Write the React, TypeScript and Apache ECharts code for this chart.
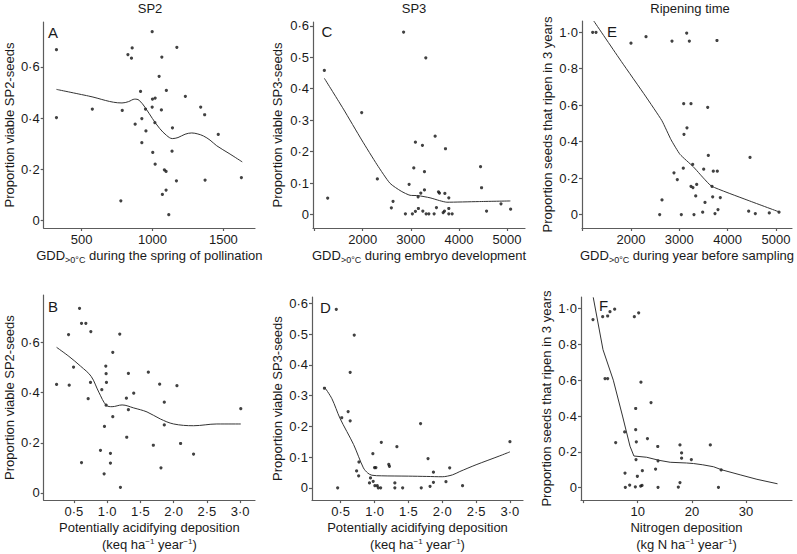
import React, { useEffect, useRef } from 'react';
import * as echarts from 'echarts';

const FONT = '"Liberation Sans", Arial, Helvetica, sans-serif';
const AXIS_COLOR = '#5c5c5c';
const TEXT_COLOR = '#1a1a1a';

// ---------- Panel A: SP2 vs GDD (spring of pollination) ----------
const pointsA: number[][] = [
  [323, 0.667], [323, 0.402], [576, 0.435], [787, 0.430], [777, 0.077], [827, 0.648], [857, 0.674], [852, 0.634],
  [878, 0.376], [916, 0.504], [925, 0.398], [925, 0.304], [951, 0.435], [954, 0.350], [998, 0.737], [1000, 0.474],
  [998, 0.443], [1002, 0.266], [1019, 0.478], [1017, 0.382], [1019, 0.220], [1047, 0.563], [1066, 0.638], [1063, 0.432],
  [1070, 0.102], [1084, 0.198], [1096, 0.192], [1096, 0.119], [1098, 0.508], [1115, 0.023], [1141, 0.362], [1138, 0.271],
  [1172, 0.676], [1169, 0.155], [1232, 0.485], [1340, 0.443], [1368, 0.413], [1371, 0.158], [1464, 0.336], [1627, 0.168],
];
const curveA: number[][] = [
  [323, 0.512], [550, 0.486], [785, 0.459], [830, 0.464], [875, 0.474], [905, 0.470], [950, 0.44], [1000, 0.398],
  [1050, 0.360], [1100, 0.332], [1140, 0.320], [1180, 0.324], [1230, 0.337], [1277, 0.342], [1320, 0.338], [1360, 0.330],
  [1406, 0.314], [1453, 0.292], [1540, 0.262], [1633, 0.229],
];

// ---------- Panel B: SP2 vs acidifying deposition ----------
const pointsB: number[][] = [
  [0.24, 0.433], [0.42, 0.632], [0.43, 0.430], [0.495, 0.502], [0.585, 0.737], [0.615, 0.677], [0.68, 0.677], [0.755, 0.644],
  [0.615, 0.121], [0.715, 0.376], [0.75, 0.441], [0.90, 0.170], [0.92, 0.412], [0.955, 0.076], [0.96, 0.265], [0.98, 0.506],
  [0.985, 0.476], [0.99, 0.441], [0.985, 0.350], [1.05, 0.158], [1.05, 0.119], [1.085, 0.561], [1.085, 0.304], [1.19, 0.634],
  [1.20, 0.022], [1.29, 0.378], [1.295, 0.222], [1.32, 0.477], [1.32, 0.332], [1.40, 0.398], [1.62, 0.482], [1.695, 0.190],
  [1.79, 0.434], [1.81, 0.100], [1.86, 0.362], [1.86, 0.271], [2.05, 0.428], [2.105, 0.197], [2.30, 0.155], [3.01, 0.336],
];
const curveB: number[][] = [
  [0.24, 0.581], [0.425, 0.545], [0.60, 0.506], [0.76, 0.465], [0.875, 0.402], [0.99, 0.349], [1.075, 0.344], [1.225, 0.351],
  [1.40, 0.339], [1.60, 0.323], [1.80, 0.295], [2.00, 0.275], [2.30, 0.268], [2.65, 0.275], [3.01, 0.275],
];

// ---------- Panel C: SP3 vs GDD (embryo development) ----------
const pointsC: number[][] = [
  [1203, 0.458], [1272, 0.052], [1979, 0.324], [2305, 0.113], [2850, 0.580], [3312, 0.498], [3506, 0.249], [3096, 0.230],
  [3242, 0.220], [3721, 0.209], [3062, 0.148], [3284, 0.136], [4450, 0.152], [4471, 0.085], [2965, 0.096], [3284, 0.078],
  [3208, 0.068], [3152, 0.056], [3575, 0.072], [3596, 0.068], [3708, 0.067], [3790, 0.053], [2631, 0.042], [2596, 0.021],
  [2888, 0.002], [3033, 0.002], [3096, 0.010], [3158, 0.019], [3250, 0.011], [3319, 0.002], [3375, 0.002], [3485, 0.002],
  [3533, 0.022], [3673, 0.006], [3700, 0.011], [3790, 0.019], [3790, 0.002], [3860, 0.002], [4575, 0.011], [4875, 0.034],
  [5075, 0.017],
];
const curveC: number[][] = [
  [1203, 0.433], [1600, 0.335], [1979, 0.237], [2300, 0.158], [2569, 0.099], [2800, 0.074], [2985, 0.061], [3150, 0.060],
  [3400, 0.053], [3600, 0.044], [3750, 0.039], [4400, 0.041], [5070, 0.043],
];

// ---------- Panel D: SP3 vs acidifying deposition ----------
const pointsD: number[][] = [
  [0.26, 0.324], [0.455, 0], [0.435, 0.581], [0.515, 0.228], [0.61, 0.248], [0.64, 0.218], [0.64, 0.376], [0.70, 0.497],
  [0.735, 0.055], [0.765, 0.039], [0.77, 0.084], [0.925, 0.016], [0.94, 0.032], [0.975, 0.111], [0.98, 0.021], [1.0, 0.066],
  [1.02, 0.066], [1.005, 0.007], [1.04, 0.007], [1.055, 0], [1.09, 0], [1.10, 0.148], [1.21, 0.076], [1.22, 0.070],
  [1.30, 0.016], [1.30, 0], [1.33, 0.134], [1.415, 0], [1.69, 0], [1.68, 0.209], [1.79, 0.095], [1.82, 0.005],
  [1.87, 0.051], [1.87, 0.018], [2.055, 0.020], [2.11, 0.065], [2.30, 0.007], [3.0, 0.150],
];
const curveD: number[][] = [
  [0.26, 0.328], [0.37, 0.29], [0.49, 0.226], [0.69, 0.141], [0.835, 0.065], [0.9, 0.048], [0.96, 0.041], [1.1, 0.039],
  [1.5, 0.038], [1.77, 0.037], [2.0, 0.036], [2.15, 0.042], [2.26, 0.053], [2.5, 0.075], [2.85, 0.104], [3.0, 0.117],
];

// ---------- Panel E: ripening vs GDD (year before sampling) ----------
const pointsE: number[][] = [
  [1207, 1.0], [1276, 1.0], [2000, 0.940], [2311, 0.976], [2849, 0.952], [3153, 0.996], [3208, 0.952], [3780, 0.955],
  [3091, 0.608], [3242, 0.608], [3588, 0.588], [3159, 0.476], [3097, 0.440], [3601, 0.324], [4464, 0.313], [3083, 0.254],
  [3277, 0.275], [3505, 0.249], [3704, 0.238], [3787, 0.238], [2890, 0.229], [2959, 0.192], [3242, 0.155], [3283, 0.148],
  [3360, 0.165], [3677, 0.155], [3340, 0.102], [3691, 0.097], [3849, 0.093], [2642, 0.080], [3532, 0.066], [3801, 0.027],
  [3484, 0.013], [3739, 0.005], [2594, 0], [3042, 0], [3304, 0], [4436, 0.018], [4574, 0.005], [4863, 0.009], [5064, 0.013],
];
const curveE: number[][] = [
  [1230, 1.062], [1800, 0.84], [2300, 0.65], [2640, 0.515], [2830, 0.41], [3015, 0.33], [3290, 0.262], [3500, 0.2],
  [3670, 0.155], [4400, 0.08], [5060, 0.015],
];

// ---------- Panel F: ripening vs nitrogen deposition ----------
const pointsF: number[][] = [
  [1.75, 0.938], [3.54, 0.954], [4.46, 0.958], [4.89, 0.982], [5.75, 0.996], [9.38, 0.954], [10.18, 0.976], [3.97, 0.609],
  [4.46, 0.609], [10.6, 0.589], [12.46, 0.475], [9.63, 0.442], [9.63, 0.324], [7.6, 0.311], [5.94, 0.252], [9.75, 0.256],
  [11.8, 0.274], [13.7, 0.230], [17.8, 0.239], [18.1, 0.194], [18.1, 0.165], [19.9, 0.157], [23.4, 0.239], [9.69, 0.157],
  [13.75, 0.150], [25.4, 0.099], [7.66, 0.082], [10.86, 0.095], [13.3, 0.104], [9.94, 0.064], [9.57, 0.005], [7.72, 0.002],
  [8.52, 0.015], [10.55, 0.009], [10.8, 0.013], [13.75, 0.002], [17.5, 0.004], [17.8, 0.029], [24.9, 0.002],
];
const curveF: number[][] = [
  [1.8, 1.062], [3.6, 0.77], [5.5, 0.60], [7.2, 0.40], [8.58, 0.232], [9.3, 0.177], [11.66, 0.170], [13, 0.160],
  [14.1, 0.152], [16, 0.142], [19, 0.138], [20.3, 0.135], [22, 0.128], [24, 0.117], [25.5, 0.100], [28.9, 0.072],
  [32, 0.047], [35.8, 0.022],
];

// ---------- Tick values ----------
const ticksGddX = [1000, 2000, 3000, 4000, 5000];
const labelsGddX = [2000, 3000, 4000, 5000];
const ticksAX = [500, 1000, 1500];
const ticksDepX = [0.5, 1.0, 1.5, 2.0, 2.5, 3.0];
const ticksNX = [0, 10, 20, 30];
const labelsNX = [10, 20, 30];
const ticksSP2Y = [0, 0.2, 0.4, 0.6];
const ticksSP3Y = [0, 0.1, 0.2, 0.3, 0.4, 0.5, 0.6];
const ticksRipY = [0, 0.2, 0.4, 0.6, 0.8, 1.0];

const titles = ['SP2', 'SP3', 'Ripening time'];
const panelLetters = ['A', 'B', 'C', 'D', 'E', 'F'];

const dec = (v: number) => (v === 0 ? '0' : v.toFixed(1).replace('.', '\u00B7'));
const intFmt = (v: number) => String(Math.round(v));

const rich = {
  sub: { fontSize: 9, lineHeight: 10, padding: [9, 0, 0, 0], fontFamily: FONT, color: TEXT_COLOR },
  sup: { fontSize: 8, lineHeight: 8, padding: [0, 0, 6, 0], fontFamily: FONT, color: TEXT_COLOR },
};

function xAxisCfg(o: any) {
  return {
    type: 'value', gridIndex: o.grid, min: o.min, max: o.max,
    axisLine: { show: true, onZero: false, lineStyle: { color: AXIS_COLOR, width: 1.2 } },
    axisTick: { show: true, length: 3, customValues: o.ticks, lineStyle: { color: AXIS_COLOR, width: 1.2 } },
    axisLabel: { customValues: o.labels, formatter: o.fmt, margin: 5, color: TEXT_COLOR, fontSize: 13, fontFamily: FONT },
    splitLine: { show: false },
    name: o.name, nameLocation: 'middle', nameGap: o.gap,
    nameTextStyle: { fontSize: 13, lineHeight: o.lh, fontFamily: FONT, color: TEXT_COLOR, rich },
  };
}
function yAxisCfg(o: any) {
  return {
    type: 'value', gridIndex: o.grid, min: o.min, max: o.max,
    axisLine: { show: true, onZero: false, lineStyle: { color: AXIS_COLOR, width: 1.2 } },
    axisTick: { show: true, length: 3, customValues: o.ticks, lineStyle: { color: AXIS_COLOR, width: 1.2 } },
    axisLabel: { customValues: o.ticks, formatter: dec, margin: 4, color: TEXT_COLOR, fontSize: 13, fontFamily: FONT },
    splitLine: { show: false },
    name: o.name, nameLocation: 'middle', nameGap: o.gap,
    nameTextStyle: { fontSize: 13, lineHeight: 16, fontFamily: FONT, color: TEXT_COLOR },
  };
}

export default function App() {
  const ref = useRef<HTMLDivElement>(null);
  useEffect(() => {
    document.body.style.margin = '0';
    if (!ref.current) return;
    const chart = echarts.init(ref.current, null, { renderer: 'svg' });
    const grids = [
      { left: 43, top: 22, width: 212, height: 206 },
      { left: 43, top: 295, width: 212, height: 208 },
      { left: 313, top: 22, width: 212, height: 206 },
      { left: 312, top: 297, width: 211, height: 206 },
      { left: 582, top: 21, width: 210, height: 207 },
      { left: 581, top: 297, width: 211, height: 206 },
    ];
    const gddName = (s: string) => 'GDD{sub|>0\u00B0C} ' + s;
    const depName = 'Potentially acidifying deposition\n(keq ha{sup|\u22121} year{sup|\u22121})';
    const nName = 'Nitrogen deposition\n(kg N ha{sup|\u22121} year{sup|\u22121})';
    const xAxes = [
      xAxisCfg({ grid: 0, min: 233, max: 1723, ticks: ticksAX, labels: ticksAX, fmt: intFmt, name: gddName('during the spring of pollination'), gap: 19, lh: 16 }),
      xAxisCfg({ grid: 1, min: 0.046, max: 3.224, ticks: ticksDepX, labels: ticksDepX, fmt: dec, name: depName, gap: 18, lh: 17 }),
      xAxisCfg({ grid: 2, min: 967, max: 5374, ticks: ticksGddX, labels: labelsGddX, fmt: intFmt, name: gddName('during embryo development'), gap: 19, lh: 16 }),
      xAxisCfg({ grid: 3, min: 0.076, max: 3.193, ticks: ticksDepX, labels: ticksDepX, fmt: dec, name: depName, gap: 18, lh: 17 }),
      xAxisCfg({ grid: 4, min: 986, max: 5333, ticks: ticksGddX, labels: labelsGddX, fmt: intFmt, name: gddName('during year before sampling'), gap: 19, lh: 16 }),
      xAxisCfg({ grid: 5, min: -0.46, max: 38.47, ticks: ticksNX, labels: labelsNX, fmt: intFmt, name: nName, gap: 18, lh: 17 }),
    ];
    const yAxes = [
      yAxisCfg({ grid: 0, min: -0.029, max: 0.775, ticks: ticksSP2Y, name: 'Proportion viable SP2-seeds', gap: 25 }),
      yAxisCfg({ grid: 1, min: -0.029, max: 0.790, ticks: ticksSP2Y, name: 'Proportion viable SP2-seeds', gap: 26 }),
      yAxisCfg({ grid: 2, min: -0.043, max: 0.612, ticks: ticksSP3Y, name: 'Proportion viable SP3-seeds', gap: 28 }),
      yAxisCfg({ grid: 3, min: -0.040, max: 0.621, ticks: ticksSP3Y, name: 'Proportion viable SP3-seeds', gap: 26 }),
      yAxisCfg({ grid: 4, min: -0.074, max: 1.062, ticks: ticksRipY, name: 'Proportion seeds that ripen in 3 years', gap: 26 }),
      yAxisCfg({ grid: 5, min: -0.069, max: 1.064, ticks: ticksRipY, name: 'Proportion seeds that ripen in 3 years', gap: 27 }),
    ];
    const pts = [pointsA, pointsB, pointsC, pointsD, pointsE, pointsF];
    const curves = [curveA, curveB, curveC, curveD, curveE, curveF];
    const smooths = [0.35, 0.35, 0.2, 0.3, 0.15, 0];
    const series: any[] = [];
    pts.forEach((p, i) => {
      series.push({
        type: 'scatter', xAxisIndex: i, yAxisIndex: i, data: p, symbol: 'circle', symbolSize: 3.2,
        itemStyle: { color: '#111' }, silent: true,
      });
      series.push({
        type: 'line', xAxisIndex: i, yAxisIndex: i, data: curves[i], showSymbol: false, smooth: smooths[i],
        lineStyle: { color: '#333', width: 1 }, silent: true,
      });
    });
    const titlePos = [[150, 8.5], [414, 8.5], [690, 8.5]];
    const letterPos = [[48, 32], [48, 306.7], [321.5, 31.7], [320, 307.3], [607, 31.7], [599, 305]];
    const graphic: any[] = [];
    titles.forEach((t, i) => graphic.push({
      type: 'text', x: titlePos[i][0], y: titlePos[i][1],
      style: { text: t, align: 'center', verticalAlign: 'middle', fontSize: 13, fontFamily: FONT, fill: TEXT_COLOR },
    }));
    panelLetters.forEach((t, i) => graphic.push({
      type: 'text', x: letterPos[i][0], y: letterPos[i][1],
      style: { text: t, align: 'left', verticalAlign: 'middle', fontSize: 15, fontFamily: FONT, fill: TEXT_COLOR },
    }));
    chart.setOption({
      animation: false,
      backgroundColor: '#fff',
      grid: grids,
      xAxis: xAxes,
      yAxis: yAxes,
      series,
      graphic,
    });
    return () => chart.dispose();
  }, []);
  return <div ref={ref} style={{ width: 797, height: 554 }} />;
}
